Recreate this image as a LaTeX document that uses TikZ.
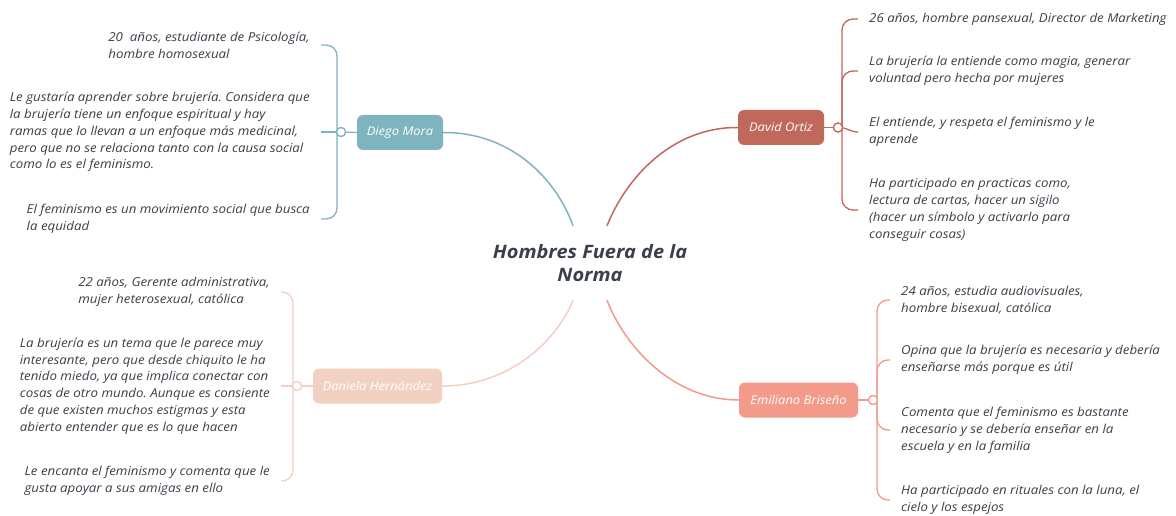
\documentclass[tikz,border=0pt]{standalone}
\usepackage{fontspec}
\setmainfont{Open Sans}[FakeStretch=1.08]
\definecolor{ink}{RGB}{58,64,74}
\definecolor{cDiego}{RGB}{125,180,190}
\definecolor{cDavid}{RGB}{192,104,90}
\definecolor{cDaniela}{RGB}{242,209,194}
\definecolor{cEmiliano}{RGB}{243,154,138}
\begin{document}
\frenchspacing
\begin{tikzpicture}[x=1pt,y=-1pt,
  txt/.style={font=\itshape\fontsize{12.3}{16.8}\selectfont, text=ink, align=left, inner xsep=11pt, inner ysep=0pt},
  topic/.style={rounded corners=6pt, fill=#1, text=white, font=\itshape\fontsize{12}{14}\selectfont, minimum height=35pt, inner sep=0pt},
  joint/.style={circle, draw=#1, fill=white, line width=1.2pt, inner sep=0pt, minimum size=9pt},
  br/.style={draw=#1, line width=1.3pt, rounded corners=11pt},
  link/.style={draw=#1, line width=1.5pt}]
\fill[white] (0,0) rectangle (1176,516);
\useasboundingbox (0,0) rectangle (1176,516);

% root
\node[font=\bfseries\itshape\fontsize{18.5}{23}\selectfont, text=ink, align=center, minimum height=74pt, inner sep=0pt] (root) at (590,263) {Hombres Fuera de la\\Norma};

% topics
\node[topic=cDiego, minimum width=86pt] (diego) at (400,132.5) {Diego Mora};
\node[topic=cDavid, minimum width=86pt] (david) at (781,127.5) {David Ortiz};
\node[topic=cDaniela, minimum width=129pt] (daniela) at (377.5,386) {Daniela Hernández};
\node[topic=cEmiliano, minimum width=119pt] (emiliano) at (798.5,400) {Emiliano Briseño};

% main connectors
\draw[link=cDiego] (diego.east) .. controls (510,132) and (556,178) .. ([xshift=-17pt]root.north);
\draw[link=cDavid] (david.west) .. controls (672,127) and (626,178) .. ([xshift=17pt]root.north);
\draw[link=cDaniela] (daniela.east) .. controls (512,386) and (558,338) .. ([xshift=-17pt]root.south);
\draw[link=cEmiliano] (emiliano.west) .. controls (672,400) and (624,345) .. ([xshift=17pt]root.south);

% Diego items
\node[txt, anchor=east] (d1) at (321,45) {20~ años, estudiante de Psicología,\\hombre homosexual};
\node[txt, anchor=east] (d2) at (321,132) {Le gustaría aprender sobre brujería. Considera que\\la brujería tiene un enfoque espiritual y hay\\ramas que lo llevan a un enfoque más medicinal,\\pero que no se relaciona tanto con la causa social\\como lo es el feminismo.};
\node[txt, anchor=east] (d3) at (321,219) {El feminismo es un movimiento social que busca\\la equidad};
\node[joint=cDiego] (jd) at (341,132) {};
\draw[br=cDiego] ([xshift=-4pt]jd.center) |- (d1.east);
\draw[br=cDiego] ([xshift=-4pt]jd.center) |- (d3.east);
\draw[br=cDiego] (jd.center) -- (d2.east);
\draw[br=cDiego] (diego.west) -- (jd.center);
\node[joint=cDiego] at (jd) {};

% David items
\node[txt, anchor=west] (a1) at (858,19) {26 años, hombre pansexual, Director de Marketing};
\node[txt, anchor=west] (a2) at (858,71) {La brujería la entiende como magia, generar\\voluntad pero hecha por mujeres};
\node[txt, anchor=west] (a3) at (858,132) {El entiende, y respeta el feminismo y le\\aprende};
\node[txt, anchor=west] (a4) at (858,210) {Ha participado en practicas como,\\lectura de cartas, hacer un sigilo\\(hacer un símbolo y activarlo para\\conseguir cosas)};
\node[joint=cDavid] (ja) at (838,127.5) {};
\draw[br=cDavid] ([xshift=4pt]ja.center) |- (a1.west);
\draw[br=cDavid] ([xshift=4pt]ja.center) |- (a2.west);
\draw[br=cDavid] ([xshift=4pt]ja.center) |- (a4.west);
\draw[draw=cDavid, line width=1.3pt] (ja.center) .. controls (848,127.5) and (850,132) .. (a3.west);
\draw[br=cDavid] (david.east) -- (ja.center);
\node[joint=cDavid] at (ja) {};

% Daniela items
\node[txt, anchor=east] (n1) at (281,292) {22 años, Gerente administrativa,\\mujer heterosexual, católica};
\node[txt, anchor=east] (n2) at (281,386) {La brujería es un tema que le parece muy\\interesante, pero que desde chiquito le ha\\tenido miedo, ya que implica conectar con\\cosas de otro mundo. Aunque es consiente\\de que existen muchos estigmas y esta\\abierto entender que es lo que hacen};
\node[txt, anchor=east] (n3) at (281,481) {Le encanta el feminismo y comenta que le\\gusta apoyar a sus amigas en ello};
\node[joint=cDaniela] (jn) at (297,386) {};
\draw[br=cDaniela] ([xshift=-4pt]jn.center) |- (n1.east);
\draw[br=cDaniela] ([xshift=-4pt]jn.center) |- (n3.east);
\draw[br=cDaniela] (jn.center) -- (n2.east);
\draw[br=cDaniela] (daniela.west) -- (jn.center);
\node[joint=cDaniela] at (jn) {};

% Emiliano items
\node[txt, anchor=west] (e1) at (890,300) {24 años, estudia audiovisuales,\\hombre bisexual, católica};
\node[txt, anchor=west] (e2) at (890,360) {Opina que la brujería es necesaria y debería\\enseñarse más porque es útil};
\node[txt, anchor=west] (e3) at (890,430) {Comenta que el feminismo es bastante\\necesario y se debería enseñar en la\\escuela y en la familia};
\node[txt, anchor=west] (e4) at (890,500) {Ha participado en rituales con la luna, el\\cielo y los espejos};
\node[joint=cEmiliano] (je) at (873,400) {};
\draw[br=cEmiliano] ([xshift=4pt]je.center) |- (e1.west);
\draw[br=cEmiliano] ([xshift=4pt]je.center) |- (e2.west);
\draw[br=cEmiliano] ([xshift=4pt]je.center) |- (e3.west);
\draw[br=cEmiliano] ([xshift=4pt]je.center) |- (e4.west);
\draw[br=cEmiliano] (emiliano.east) -- (je.center);
\node[joint=cEmiliano] at (je) {};
\end{tikzpicture}
\end{document}
